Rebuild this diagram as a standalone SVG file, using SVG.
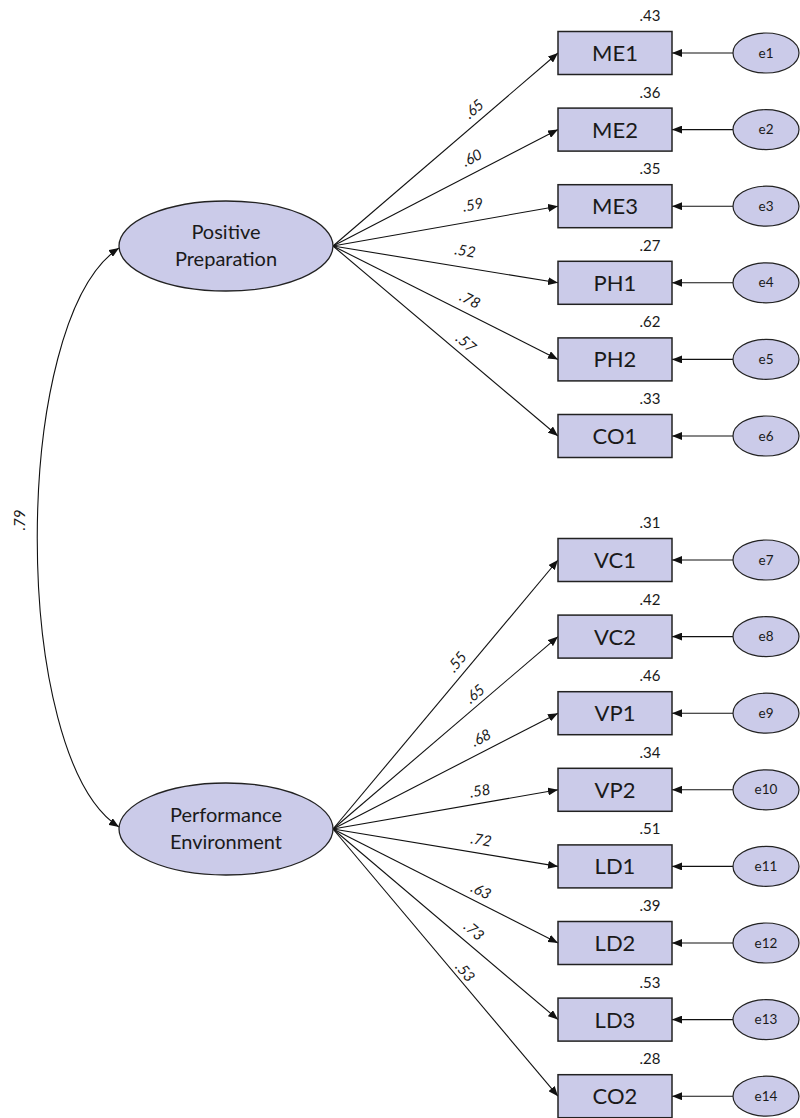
<svg xmlns="http://www.w3.org/2000/svg" width="800" height="1118" viewBox="0 0 800 1118">
<style>
.box{fill:#CBCBE9;stroke:#222;stroke-width:1.5}
.lat{fill:#CBCBE9;stroke:#222;stroke-width:1.3}
.err{fill:#CBCBE9;stroke:#222;stroke-width:1.2}
.ln{fill:none;stroke:#111;stroke-width:1.1}
.t{font-family:Lato,"Open Sans",sans-serif;fill:#1a1a1a;text-anchor:middle}
.bt{font-size:22px}
.lt{font-size:20px}
.et{font-size:13.5px}
.vt{font-size:15px}
.pt{font-size:15px;font-style:italic}
</style>
<defs>
<marker id="ah" viewBox="0 0 10 8" refX="10" refY="4" markerWidth="10" markerHeight="8" markerUnits="userSpaceOnUse" orient="auto-start-reverse">
<path d="M0,0 L10,4 L0,8 z" fill="#111"/>
</marker>
</defs>

<g id="connectors">
<path class="ln" d="M119,248 C10,320 10,757 119,827" marker-start="url(#ah)" marker-end="url(#ah)"/>
<line class="ln" x1="333" y1="246" x2="558" y2="53" marker-end="url(#ah)"/>
<line class="ln" x1="333" y1="246" x2="558" y2="129.6" marker-end="url(#ah)"/>
<line class="ln" x1="333" y1="246" x2="558" y2="206.2" marker-end="url(#ah)"/>
<line class="ln" x1="333" y1="246" x2="558" y2="282.8" marker-end="url(#ah)"/>
<line class="ln" x1="333" y1="246" x2="558" y2="359.4" marker-end="url(#ah)"/>
<line class="ln" x1="333" y1="246" x2="558" y2="436" marker-end="url(#ah)"/>
<line class="ln" x1="333" y1="829" x2="558" y2="560" marker-end="url(#ah)"/>
<line class="ln" x1="333" y1="829" x2="558" y2="636.6" marker-end="url(#ah)"/>
<line class="ln" x1="333" y1="829" x2="558" y2="713.2" marker-end="url(#ah)"/>
<line class="ln" x1="333" y1="829" x2="558" y2="789.8" marker-end="url(#ah)"/>
<line class="ln" x1="333" y1="829" x2="558" y2="866.4" marker-end="url(#ah)"/>
<line class="ln" x1="333" y1="829" x2="558" y2="943" marker-end="url(#ah)"/>
<line class="ln" x1="333" y1="829" x2="558" y2="1019.6" marker-end="url(#ah)"/>
<line class="ln" x1="333" y1="829" x2="558" y2="1096.2" marker-end="url(#ah)"/>
<line class="ln" x1="733" y1="53" x2="672" y2="53" marker-end="url(#ah)"/>
<line class="ln" x1="733" y1="129.6" x2="672" y2="129.6" marker-end="url(#ah)"/>
<line class="ln" x1="733" y1="206.2" x2="672" y2="206.2" marker-end="url(#ah)"/>
<line class="ln" x1="733" y1="282.8" x2="672" y2="282.8" marker-end="url(#ah)"/>
<line class="ln" x1="733" y1="359.4" x2="672" y2="359.4" marker-end="url(#ah)"/>
<line class="ln" x1="733" y1="436" x2="672" y2="436" marker-end="url(#ah)"/>
<line class="ln" x1="733" y1="560" x2="672" y2="560" marker-end="url(#ah)"/>
<line class="ln" x1="733" y1="636.6" x2="672" y2="636.6" marker-end="url(#ah)"/>
<line class="ln" x1="733" y1="713.2" x2="672" y2="713.2" marker-end="url(#ah)"/>
<line class="ln" x1="733" y1="789.8" x2="672" y2="789.8" marker-end="url(#ah)"/>
<line class="ln" x1="733" y1="866.4" x2="672" y2="866.4" marker-end="url(#ah)"/>
<line class="ln" x1="733" y1="943" x2="672" y2="943" marker-end="url(#ah)"/>
<line class="ln" x1="733" y1="1019.6" x2="672" y2="1019.6" marker-end="url(#ah)"/>
<line class="ln" x1="733" y1="1096.2" x2="672" y2="1096.2" marker-end="url(#ah)"/>
<text class="t pt" transform="translate(20,520) rotate(-90)" y="5">.79</text>
<text class="t pt" transform="translate(474,109) rotate(-40.6)" y="5">.65</text>
<text class="t pt" transform="translate(472,158) rotate(-27.3)" y="5">.60</text>
<text class="t pt" transform="translate(473,205) rotate(-10.1)" y="5">.59</text>
<text class="t pt" transform="translate(465,251) rotate(9.3)" y="5">.52</text>
<text class="t pt" transform="translate(470,300) rotate(26.9)" y="5">.78</text>
<text class="t pt" transform="translate(466,343) rotate(40.2)" y="5">.57</text>
<text class="t pt" transform="translate(457,662) rotate(-50.1)" y="5">.55</text>
<text class="t pt" transform="translate(475,694) rotate(-40.5)" y="5">.65</text>
<text class="t pt" transform="translate(481,738) rotate(-27)" y="5">.68</text>
<text class="t pt" transform="translate(480,791) rotate(-9.8)" y="5">.58</text>
<text class="t pt" transform="translate(481,840) rotate(9.3)" y="5">.72</text>
<text class="t pt" transform="translate(481,891) rotate(26.9)" y="5">.63</text>
<text class="t pt" transform="translate(474,931) rotate(40.3)" y="5">.73</text>
<text class="t pt" transform="translate(465,972) rotate(49.9)" y="5">.53</text>
</g>

<g id="PositivePreparation">
<ellipse class="lat" cx="226" cy="246" rx="107" ry="45"/>
<text class="t lt" x="226" y="239">Positive</text>
<text class="t lt" x="226" y="266">Preparation</text>
</g>
<g id="PerformanceEnvironment">
<ellipse class="lat" cx="226" cy="829" rx="107" ry="46"/>
<text class="t lt" x="226" y="822">Performance</text>
<text class="t lt" x="226" y="849">Environment</text>
</g>

<g id="ME1"><rect class="box" x="558" y="31.5" width="114" height="43"/><text class="t bt" x="615" y="61">ME1</text><text class="t vt" x="650" y="21">.43</text></g>
<g id="ME2"><rect class="box" x="558" y="108.1" width="114" height="43"/><text class="t bt" x="615" y="137.6">ME2</text><text class="t vt" x="650" y="97.6">.36</text></g>
<g id="ME3"><rect class="box" x="558" y="184.7" width="114" height="43"/><text class="t bt" x="615" y="214.2">ME3</text><text class="t vt" x="650" y="174.2">.35</text></g>
<g id="PH1"><rect class="box" x="558" y="261.3" width="114" height="43"/><text class="t bt" x="615" y="290.8">PH1</text><text class="t vt" x="650" y="250.8">.27</text></g>
<g id="PH2"><rect class="box" x="558" y="337.9" width="114" height="43"/><text class="t bt" x="615" y="367.4">PH2</text><text class="t vt" x="650" y="327.4">.62</text></g>
<g id="CO1"><rect class="box" x="558" y="414.5" width="114" height="43"/><text class="t bt" x="615" y="444">CO1</text><text class="t vt" x="650" y="404">.33</text></g>
<g id="VC1"><rect class="box" x="558" y="538.5" width="114" height="43"/><text class="t bt" x="615" y="568">VC1</text><text class="t vt" x="650" y="528">.31</text></g>
<g id="VC2"><rect class="box" x="558" y="615.1" width="114" height="43"/><text class="t bt" x="615" y="644.6">VC2</text><text class="t vt" x="650" y="604.6">.42</text></g>
<g id="VP1"><rect class="box" x="558" y="691.7" width="114" height="43"/><text class="t bt" x="615" y="721.2">VP1</text><text class="t vt" x="650" y="681.2">.46</text></g>
<g id="VP2"><rect class="box" x="558" y="768.3" width="114" height="43"/><text class="t bt" x="615" y="797.8">VP2</text><text class="t vt" x="650" y="757.8">.34</text></g>
<g id="LD1"><rect class="box" x="558" y="844.9" width="114" height="43"/><text class="t bt" x="615" y="874.4">LD1</text><text class="t vt" x="650" y="834.4">.51</text></g>
<g id="LD2"><rect class="box" x="558" y="921.5" width="114" height="43"/><text class="t bt" x="615" y="951">LD2</text><text class="t vt" x="650" y="911">.39</text></g>
<g id="LD3"><rect class="box" x="558" y="998.1" width="114" height="43"/><text class="t bt" x="615" y="1027.6">LD3</text><text class="t vt" x="650" y="987.6">.53</text></g>
<g id="CO2"><rect class="box" x="558" y="1074.7" width="114" height="43"/><text class="t bt" x="615" y="1104.2">CO2</text><text class="t vt" x="650" y="1064.2">.28</text></g>

<g id="e1"><ellipse class="err" cx="766" cy="53" rx="33" ry="20"/><text class="t et" x="766" y="57.5">e1</text></g>
<g id="e2"><ellipse class="err" cx="766" cy="129.6" rx="33" ry="20"/><text class="t et" x="766" y="134.1">e2</text></g>
<g id="e3"><ellipse class="err" cx="766" cy="206.2" rx="33" ry="20"/><text class="t et" x="766" y="210.7">e3</text></g>
<g id="e4"><ellipse class="err" cx="766" cy="282.8" rx="33" ry="20"/><text class="t et" x="766" y="287.3">e4</text></g>
<g id="e5"><ellipse class="err" cx="766" cy="359.4" rx="33" ry="20"/><text class="t et" x="766" y="363.9">e5</text></g>
<g id="e6"><ellipse class="err" cx="766" cy="436" rx="33" ry="20"/><text class="t et" x="766" y="440.5">e6</text></g>
<g id="e7"><ellipse class="err" cx="766" cy="560" rx="33" ry="20"/><text class="t et" x="766" y="564.5">e7</text></g>
<g id="e8"><ellipse class="err" cx="766" cy="636.6" rx="33" ry="20"/><text class="t et" x="766" y="641.1">e8</text></g>
<g id="e9"><ellipse class="err" cx="766" cy="713.2" rx="33" ry="20"/><text class="t et" x="766" y="717.7">e9</text></g>
<g id="e10"><ellipse class="err" cx="766" cy="789.8" rx="33" ry="20"/><text class="t et" x="766" y="794.3">e10</text></g>
<g id="e11"><ellipse class="err" cx="766" cy="866.4" rx="33" ry="20"/><text class="t et" x="766" y="870.9">e11</text></g>
<g id="e12"><ellipse class="err" cx="766" cy="943" rx="33" ry="20"/><text class="t et" x="766" y="947.5">e12</text></g>
<g id="e13"><ellipse class="err" cx="766" cy="1019.6" rx="33" ry="20"/><text class="t et" x="766" y="1024.1">e13</text></g>
<g id="e14"><ellipse class="err" cx="766" cy="1096.2" rx="33" ry="20"/><text class="t et" x="766" y="1100.7">e14</text></g>
</svg>
